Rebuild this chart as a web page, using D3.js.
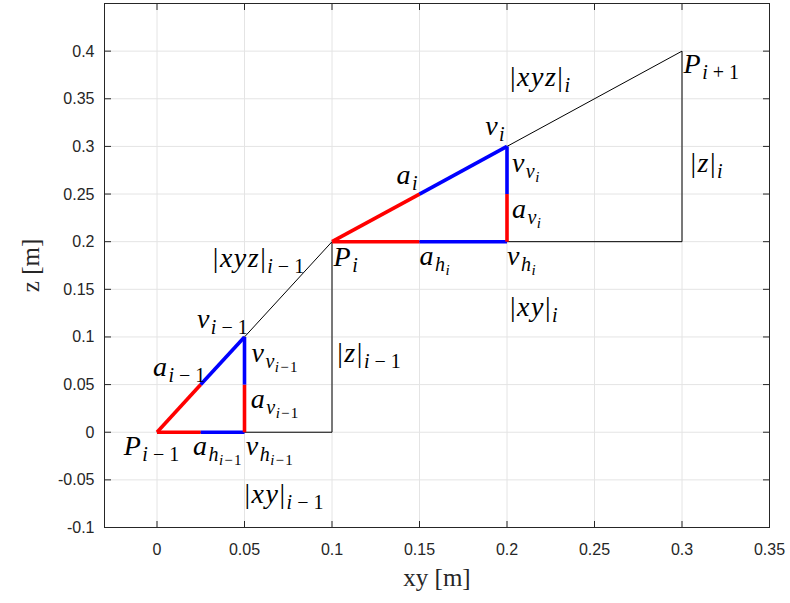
<!DOCTYPE html>
<html>
<head>
<meta charset="utf-8">
<script src="https://cdn.jsdelivr.net/npm/d3@7"></script>
<style>
  html, body { margin: 0; padding: 0; background: #fff; }
  svg { display: block; }
  .tick-label { font-family: "Liberation Sans", Arial, sans-serif; }
  .math, .title { font-family: "Liberation Serif", "Times New Roman", serif; }
</style>
</head>
<body>
<svg id="chart" width="790" height="603"></svg>
<script>
// Path points P (xy, z) for the two consecutive segments
const pointXY = [0, 0.1, 0.3];
const pointZ = [0, 0.2, 0.4];
// End of acceleration phase on each segment
const accelXY = [0.025, 0.15];
const accelZ = [0.05, 0.25];
// End of velocity phase (vertex v) on each segment
const velXY = [0.05, 0.2];
const velZ = [0.1, 0.3];

const xTicks = [0, 0.05, 0.1, 0.15, 0.2, 0.25, 0.3, 0.35];
const yTicks = [-0.1, -0.05, 0, 0.05, 0.1, 0.15, 0.2, 0.25, 0.3, 0.35, 0.4];
const xDomain = [-0.03, 0.35];
const yDomain = [-0.1, 0.45];

// Annotation labels: base text, subscript, second-level subscript, anchor (xy, z)
const labelText = [
  ["P", "i−1", ""], ["a", "h", "i−1"], ["v", "h", "i−1"], ["|xy|", "i−1", ""],
  ["a", "v", "i−1"], ["v", "v", "i−1"], ["a", "i−1", ""], ["v", "i−1", ""],
  ["|z|", "i−1", ""], ["|xyz|", "i−1", ""], ["P", "i", ""], ["a", "h", "i"],
  ["v", "h", "i"], ["|xy|", "i", ""], ["a", "i", ""], ["v", "i", ""],
  ["v", "v", "i"], ["a", "v", "i"], ["|z|", "i", ""], ["|xyz|", "i", ""],
  ["P", "i+1", ""]
];
const labelXY = [
  -0.019, 0.0205, 0.0507, 0.050,
  0.0536, 0.054, -0.0023, 0.0228,
  0.103, 0.0319, 0.1009, 0.150,
  0.200, 0.2017, 0.1368, 0.1875,
  0.2028, 0.2028, 0.3048, 0.2017,
  0.3009
];
const labelZ = [
  -0.024, -0.024, -0.024, -0.0745,
  0.0252, 0.0735, 0.0588, 0.109,
  0.0735, 0.173, 0.175, 0.176,
  0.176, 0.122, 0.261, 0.312,
  0.273, 0.2247, 0.273, 0.3633,
  0.377
];

(function draw() {
  const svg = d3.select("#chart");
  const pL = 104.5, pR = 769.5, pT = 3.5, pB = 527.5;
  const x = d3.scaleLinear().domain(xDomain).range([pL, pR]);
  const y = d3.scaleLinear().domain(yDomain).range([pB, pT]);
  const axisColor = "#262626";

  // Grid
  const grid = svg.append("g").attr("stroke", "#e4e4e4").attr("stroke-width", 1);
  xTicks.forEach(t => grid.append("line")
    .attr("x1", x(t)).attr("x2", x(t)).attr("y1", pT).attr("y2", pB));
  yTicks.forEach(t => grid.append("line")
    .attr("x1", pL).attr("x2", pR).attr("y1", y(t)).attr("y2", y(t)));

  // Reference triangles of each segment (thin black)
  const line = d3.line().x(d => x(d[0])).y(d => y(d[1]));
  for (let k = 0; k < 2; k++) {
    const tri = [
      [pointXY[k], pointZ[k]],
      [pointXY[k + 1], pointZ[k]],
      [pointXY[k + 1], pointZ[k + 1]],
      [pointXY[k], pointZ[k]]
    ];
    svg.append("path").attr("d", line(tri))
      .attr("fill", "none").attr("stroke", "#000").attr("stroke-width", 1);
  }

  // Acceleration (red) and velocity (blue) phases
  const red = "#ff0000", blue = "#0000ff";
  for (let k = 0; k < 2; k++) {
    const P = [pointXY[k], pointZ[k]];
    const segs = [
      [[P, [accelXY[k], accelZ[k]]], red],
      [[[accelXY[k], accelZ[k]], [velXY[k], velZ[k]]], blue],
      [[P, [accelXY[k], P[1]]], red],
      [[[accelXY[k], P[1]], [velXY[k], P[1]]], blue],
      [[[velXY[k], P[1]], [velXY[k], accelZ[k]]], red],
      [[[velXY[k], accelZ[k]], [velXY[k], velZ[k]]], blue]
    ];
    segs.forEach(([pts, c]) => svg.append("path").attr("d", line(pts))
      .attr("fill", "none").attr("stroke", c).attr("stroke-width", 3.6)
      .attr("stroke-linecap", "butt"));
  }

  // Axes (box with inward ticks on all four sides)
  const tickLen = 6.5;
  const ax = svg.append("g").attr("stroke", axisColor).attr("stroke-width", 1);
  ax.append("rect").attr("x", pL).attr("y", pT)
    .attr("width", pR - pL).attr("height", pB - pT).attr("fill", "none");
  xTicks.forEach(t => {
    ax.append("line").attr("x1", x(t)).attr("x2", x(t)).attr("y1", pB).attr("y2", pB - tickLen);
    ax.append("line").attr("x1", x(t)).attr("x2", x(t)).attr("y1", pT).attr("y2", pT + tickLen);
  });
  yTicks.forEach(t => {
    ax.append("line").attr("x1", pL).attr("x2", pL + tickLen).attr("y1", y(t)).attr("y2", y(t));
    ax.append("line").attr("x1", pR).attr("x2", pR - tickLen).attr("y1", y(t)).attr("y2", y(t));
  });

  const fmt = v => String(+v.toFixed(2));
  svg.append("g").selectAll("text").data(xTicks).join("text")
    .attr("class", "tick-label")
    .attr("x", d => x(d)).attr("y", 555)
    .attr("text-anchor", "middle")
    .attr("font-size", 16).attr("fill", axisColor).text(fmt);
  svg.append("g").selectAll("text").data(yTicks).join("text")
    .attr("class", "tick-label")
    .attr("x", pL - 10).attr("y", d => y(d) + 5.5)
    .attr("text-anchor", "end")
    .attr("font-size", 16).attr("fill", axisColor).text(fmt);

  // Axis titles
  svg.append("text").attr("class", "title")
    .attr("x", (pL + pR) / 2).attr("y", 586)
    .attr("text-anchor", "middle")
    .attr("font-size", 25).attr("fill", axisColor).text("xy [m]");
  svg.append("text").attr("class", "title")
    .attr("transform", `translate(39,${(pT + pB) / 2}) rotate(-90)`)
    .attr("text-anchor", "middle")
    .attr("font-size", 25).attr("fill", axisColor).text("z [m]");

  // Math-style annotation labels: letters italic, digits/signs/bars upright
  function appendRuns(textEl, str, size, shift, spacing, gap) {
    const spaced = str.replace(/([−+])/g, gap + "$1" + gap);
    const runs = spaced.match(/[A-Za-z]+|[^A-Za-z]+/g) || [];
    runs.forEach((r, i) => {
      const ts = textEl.append("tspan").attr("font-size", size)
        .attr("font-style", /[A-Za-z]/.test(r) ? "italic" : "normal")
        .attr("letter-spacing", spacing)
        .text(r);
      if (i === 0 && shift) ts.attr("dy", shift);
    });
  }
  labelText.forEach((parts, i) => {
    const t = svg.append("text").attr("class", "math")
      .attr("x", x(labelXY[i])).attr("y", y(labelZ[i]))
      .attr("fill", "#000");
    appendRuns(t, parts[0], 28, 0, 1.5, "");
    if (parts[1]) appendRuns(t, parts[1], 20, 6, 0.5, "\u2009");
    if (parts[2]) appendRuns(t, parts[2], 15, 4, 0, "\u200A");
  });
})();
</script>
</body>
</html>
